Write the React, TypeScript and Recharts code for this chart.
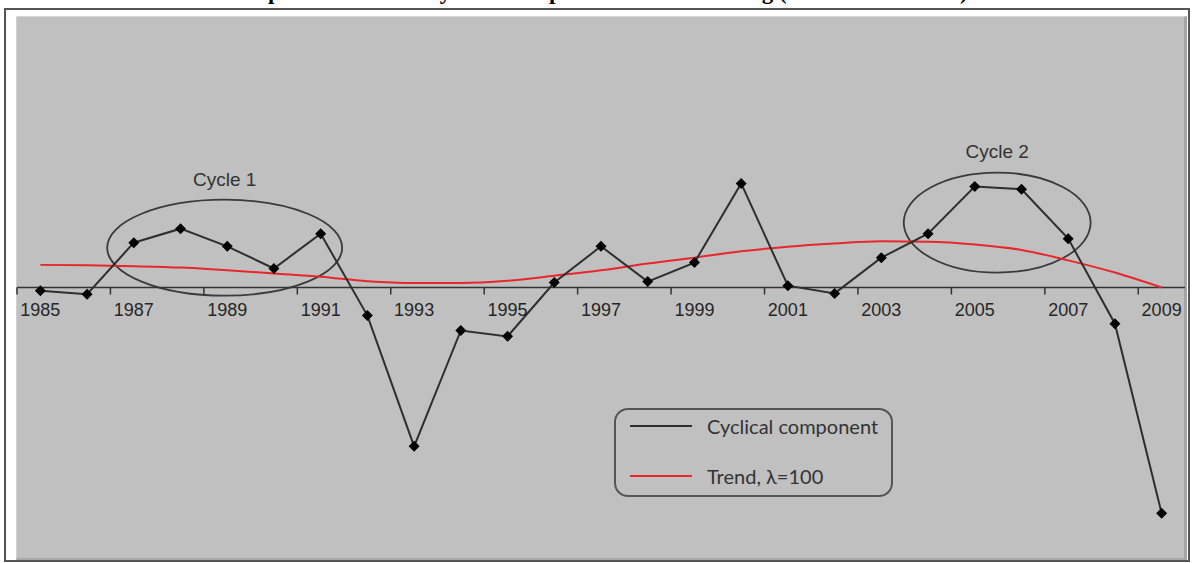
import { Legend, Line, LineChart, ReferenceArea, ReferenceDot, ReferenceLine, XAxis, YAxis } from 'recharts';

const years = [
  1985, 1986, 1987, 1988, 1989, 1990, 1991, 1992, 1993, 1994, 1995, 1996, 1997,
  1998, 1999, 2000, 2001, 2002, 2003, 2004, 2005, 2006, 2007, 2008, 2009,
];

const cyclical = [
  -0.07, -0.15, 0.99, 1.3, 0.91, 0.42, 1.19, -0.62, -3.51, -0.95, -1.08, 0.11, 0.91,
  0.13, 0.55, 2.3, 0.04, -0.13, 0.66, 1.19, 2.23, 2.17, 1.08, -0.8, -4.99,
];

const trend = [
  0.5, 0.49, 0.47, 0.44, 0.38, 0.31, 0.24, 0.14, 0.1, 0.1, 0.15, 0.26, 0.38,
  0.53, 0.66, 0.8, 0.9, 0.97, 1.02, 1.01, 0.95, 0.83, 0.6, 0.33, 0.0,
];

const tickYears = [1985, 1987, 1989, 1991, 1993, 1995, 1997, 1999, 2001, 2003, 2005, 2007, 2009];

const cycles = [
  { label: 'Cycle 1', x1: 1986.43, x2: 1991.46, y1: -0.18, y2: 1.94, offset: 14 },
  { label: 'Cycle 2', x1: 2003.48, x2: 2007.48, y1: 0.33, y2: 2.54, offset: 15 },
];

const seriesNames = ['Cyclical component', 'Trend, λ=100'];

const data = years.map((year, i) => ({ year, cyclical: cyclical[i], trend: trend[i] }));

const W = 1192;
const H = 563;
const axisFont = '"Liberation Sans", Arial, sans-serif';

const Diamond = (props: any) => {
  const { cx, cy } = props;
  if (cx == null || cy == null) return null;
  const r = 5.5;
  return (
    <polygon
      points={`${cx},${cy - r} ${cx + r},${cy} ${cx},${cy + r} ${cx - r},${cy}`}
      fill="#000"
    />
  );
};

const TickMark = (props: any) => (
  <line x1={props.cx} y1={props.cy} x2={props.cx} y2={props.cy + 7} stroke="#333" strokeWidth={1.5} />
);

const TickLabel = (label: number) => (props: any) => (
  <text
    x={props.cx}
    y={props.cy + 28}
    textAnchor="middle"
    fontFamily={axisFont}
    fontSize={18}
    fill="#262626"
  >
    {label}
  </text>
);

const Ellipse = (props: any) => {
  const { x, y, width, height } = props;
  const w = Math.abs(width);
  const h = Math.abs(height);
  return (
    <ellipse
      cx={x + width / 2}
      cy={y + height / 2}
      rx={w / 2}
      ry={h / 2}
      fill="none"
      stroke="#3a3a3a"
      strokeWidth={1.8}
    />
  );
};

const LegendBox = (props: any) => {
  const items = [...(props.payload || [])].sort(
    (a: any, b: any) => seriesNames.indexOf(a.value) - seriesNames.indexOf(b.value)
  );
  return (
    <div
      style={{
        width: 275,
        height: 85,
        border: '2px solid #555',
        borderRadius: 14,
        boxSizing: 'content-box',
        position: 'relative',
        textAlign: 'left',
      }}
    >
      {items.map((item: any, i: number) => (
        <div
          key={item.value}
          style={{
            position: 'absolute',
            left: 14,
            top: 2 + i * 50,
            height: 28,
            display: 'flex',
            alignItems: 'center',
            whiteSpace: 'nowrap',
          }}
        >
          <div style={{ width: 62, height: 2, background: item.color, marginRight: 15 }} />
          <span style={{ fontFamily: 'Lato, "Open Sans", sans-serif', fontSize: 20, color: '#333' }}>
            {item.value}
          </span>
        </div>
      ))}
    </div>
  );
};

export default function App() {
  return (
    <div
      style={{
        position: 'absolute',
        left: 0,
        top: 0,
        width: W,
        height: H,
        background: '#fff',
        overflow: 'hidden',
      }}
    >
      <svg width={W} height={20} style={{ position: 'absolute', left: 0, top: 0 }}>
        <text
          x={598}
          y={-1}
          textAnchor="middle"
          fontFamily='"Liberation Serif", "Times New Roman", serif'
          fontWeight="bold"
          fontSize={23}
          fill="#000"
        >
          Graph 1: Estimated cyclical component via HP filtering (Hodrick–Prescott)
        </text>
      </svg>
      <div
        style={{
          position: 'absolute',
          left: 4,
          top: 8,
          width: 1182,
          height: 550,
          border: '2px solid #555',
        }}
      />
      <div
        style={{
          position: 'absolute',
          left: 16,
          top: 16,
          width: 1167,
          height: 541,
          background: '#c0c0c0',
          borderTop: '1px solid #d8d8d8',
          borderLeft: '1px solid #d0d0d0',
          borderRight: '3px solid #a4a4a4',
          borderBottom: '2px solid #a8a8a8',
        }}
      />
      <div style={{ position: 'absolute', left: 0, top: 0 }}>
        <LineChart
          width={W}
          height={H}
          data={data}
          margin={{ top: 16, right: 7, bottom: 4, left: 17 }}
        >
          <XAxis dataKey="year" type="number" domain={[1984.5, 2009.5]} hide />
          <YAxis type="number" domain={[-6, 6]} hide />
          <ReferenceLine y={0} stroke="#333" strokeWidth={1.5} ifOverflow="visible" />
          {tickYears.map((t) => (
            <ReferenceDot
              key={`m${t}`}
              x={t - 0.5}
              y={0}
              r={1}
              ifOverflow="visible"
              shape={TickMark}
            />
          ))}
          {tickYears.map((t) => (
            <ReferenceDot
              key={`l${t}`}
              x={t}
              y={0}
              r={1}
              ifOverflow="visible"
              shape={TickLabel(t)}
            />
          ))}
          {cycles.map((c) => (
            <ReferenceArea
              key={c.label}
              x1={c.x1}
              x2={c.x2}
              y1={c.y1}
              y2={c.y2}
              ifOverflow="visible"
              shape={Ellipse}
              label={{
                value: c.label,
                position: 'top',
                offset: c.offset,
                fill: '#333',
                fontSize: 19,
                fontFamily: axisFont,
              }}
            />
          ))}
          <Line
            type="monotone"
            dataKey="trend"
            name={seriesNames[1]}
            stroke="#e8262b"
            strokeWidth={2}
            dot={false}
            isAnimationActive={false}
          />
          <Line
            type="linear"
            dataKey="cyclical"
            name={seriesNames[0]}
            stroke="#2e2e2e"
            strokeWidth={2}
            dot={<Diamond />}
            activeDot={false}
            isAnimationActive={false}
          />
          <Legend
            verticalAlign="middle"
            content={<LegendBox />}
            wrapperStyle={{ position: 'absolute', left: 614, top: 408, width: 279, height: 89 }}
          />
        </LineChart>
      </div>
    </div>
  );
}
